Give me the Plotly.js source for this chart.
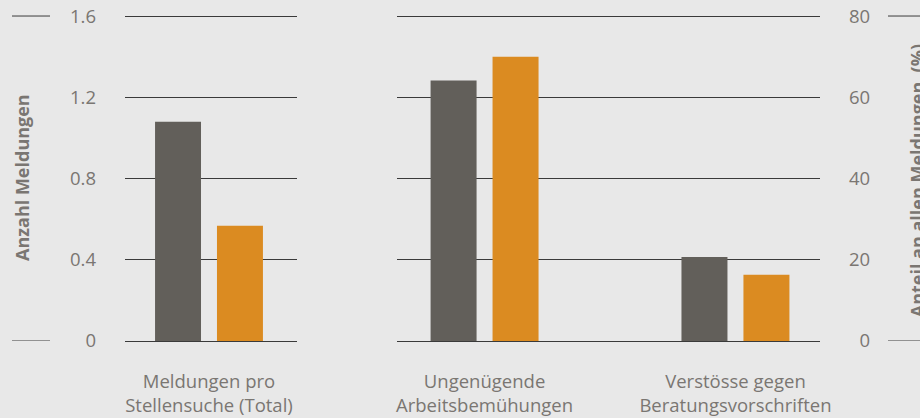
<!DOCTYPE html>
<html>
<head>
<meta charset="utf-8">
<script src="https://cdn.plot.ly/plotly-3.0.1.min.js"></script>
<style>html,body{margin:0;padding:0;background:#e8e8e8;}#chart{width:920px;height:418px;}</style>
</head>
<body>
<div id="chart"></div>
<script>
// Data
const leftCategories = ["Meldungen pro<br>Stellensuche (Total)"];
const rightCategories = ["Ungenügende<br>Arbeitsbemühungen", "Verstösse gegen<br>Beratungsvorschriften"];
const leftGray = [1.08];
const leftOrange = [0.567];
const rightGray = [64.1, 20.7];
const rightOrange = [70.0, 16.3];
const leftTicks = [0, 0.4, 0.8, 1.2, 1.6];
const leftTickText = ["0", "0.4", "0.8", "1.2", "1.6"];
const rightTicks = [0, 20, 40, 60, 80];
const rightTickText = ["\u20070", "20", "40", "60", "80"];
const leftTitle = "Anzahl Meldungen";
const rightTitle = "Anteil an allen Meldungen&nbsp;&nbsp;(%)";

const GRAY = "#625f5a", ORANGE = "#db8b21", TXT = "#7a7672", LINE = "#3a3a3a";
const W = 920;
const font = {family: "Open Sans, Noto Sans, sans-serif", size: 18.5, color: TXT};

const traces = [
  {type: "bar", x: leftCategories, y: leftGray, xaxis: "x", yaxis: "y", marker: {color: GRAY}, name: "g1"},
  {type: "bar", x: leftCategories, y: leftOrange, xaxis: "x", yaxis: "y", marker: {color: ORANGE}, name: "o1"},
  {type: "bar", x: rightCategories, y: rightGray, xaxis: "x2", yaxis: "y2", marker: {color: GRAY}, name: "g2"},
  {type: "bar", x: rightCategories, y: rightOrange, xaxis: "x2", yaxis: "y2", marker: {color: ORANGE}, name: "o2"}
];

const yCommon = {
  showgrid: true, gridcolor: LINE, gridwidth: 1, zeroline: false,
  showline: false, ticks: "", tickmode: "array", tickfont: font, ticklabelstandoff: 28, fixedrange: true
};
const xCommon = {type: "category", showgrid: false, zeroline: false, showline: true, linecolor: LINE, linewidth: 1,
  ticks: "", tickfont: font, ticklabelstandoff: 24, fixedrange: true};

const layout = {
  width: 920, height: 418,
  paper_bgcolor: "#e8e8e8", plot_bgcolor: "#e8e8e8",
  margin: {l: 0, r: 0, t: 15, b: 77, pad: 0},
  showlegend: false, hovermode: false,
  barmode: "group", bargap: 0.506, bargroupgap: 0.258,
  font: font,
  xaxis: Object.assign({}, xCommon, {domain: [125 / W, 297 / W], anchor: "y", range: [-0.335, 0.351]}),
  xaxis2: Object.assign({}, xCommon, {domain: [397 / W, 820 / W], anchor: "y2", range: [-0.349, 1.337]}),
  yaxis: Object.assign({}, yCommon, {anchor: "x", side: "left", range: [0, 1.605], tickvals: leftTicks, ticktext: leftTickText}),
  yaxis2: Object.assign({}, yCommon, {anchor: "x2", side: "right", range: [0, 80.25], tickvals: rightTicks, ticktext: rightTickText}),
  shapes: [
    {type: "line", xref: "paper", yref: "y", x0: 12 / W, x1: 50 / W, y0: 1.6, y1: 1.6, line: {color: LINE, width: 1}},
    {type: "line", xref: "paper", yref: "y", x0: 12 / W, x1: 50 / W, y0: 0, y1: 0, line: {color: LINE, width: 1}},
    {type: "line", xref: "paper", yref: "y2", x0: 888 / W, x1: 1, y0: 80, y1: 80, line: {color: LINE, width: 1}},
    {type: "line", xref: "paper", yref: "y2", x0: 888 / W, x1: 1, y0: 0, y1: 0, line: {color: LINE, width: 1}}
  ],
  annotations: [
    {text: "<b>" + leftTitle + "</b>", xref: "paper", yref: "paper", x: 22 / W, y: 0.5, xanchor: "center", yanchor: "middle",
     textangle: -90, showarrow: false, font: {family: font.family, size: 18, color: TXT}},
    {text: "<b>" + rightTitle + "</b>", xref: "paper", yref: "paper", x: 917 / W, y: 0.49, xanchor: "center", yanchor: "middle",
     textangle: -90, showarrow: false, font: {family: font.family, size: 18, color: TXT}}
  ]
};

Plotly.newPlot("chart", traces, layout, {displayModeBar: false, staticPlot: true});
</script>
</body>
</html>
